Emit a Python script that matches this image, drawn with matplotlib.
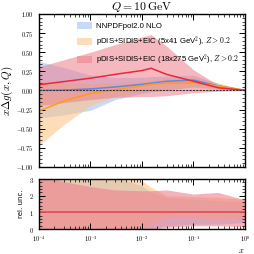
import matplotlib
matplotlib.use('Agg')
import matplotlib.pyplot as plt
from matplotlib.patches import Patch
from matplotlib.ticker import MultipleLocator, LogLocator, NullFormatter, FixedLocator

plt.rcParams['mathtext.fontset'] = 'cm'
plt.rcParams['font.family'] = 'DejaVu Sans'

x = [1e-4, 3e-4, 1e-3, 3e-3, 1e-2, 1.5e-2, 3e-2, 1e-1, 3e-1, 1.0]

# NNPDFpol2.0 NLO
nn_c = [0.0, 0.005, 0.02, 0.045, 0.08, 0.095, 0.12, 0.135, 0.06, 0.0]
nn_hi = [0.38, 0.30, 0.20, 0.17, 0.17, 0.18, 0.19, 0.20, 0.09, 0.0]
nn_lo = [-0.36, -0.32, -0.26, -0.12, -0.04, -0.02, 0.0, 0.05, 0.02, 0.0]
# pDIS+SIDIS+EIC 5x41
e5_c = [-0.27, -0.14, -0.04, 0.01, 0.06, 0.08, 0.095, 0.10, 0.06, 0.0]
e5_hi = [0.12, 0.10, 0.09, 0.10, 0.12, 0.14, 0.16, 0.17, 0.10, 0.0]
e5_lo = [-0.72, -0.45, -0.20, -0.08, -0.02, 0.0, 0.02, 0.04, 0.02, 0.0]
# pDIS+SIDIS+EIC 18x275
e18_c = [0.075, 0.115, 0.16, 0.21, 0.26, 0.29, 0.21, 0.12, 0.035, 0.0]
e18_hi = [0.31, 0.40, 0.50, 0.60, 0.70, 0.73, 0.58, 0.27, 0.07, 0.0]
e18_lo = [-0.20, -0.16, -0.12, -0.09, -0.08, -0.08, -0.07, -0.03, -0.01, 0.0]

# relative uncertainty panel
nn_rhi = [3.5, 3.5, 3.4, 3.1, 2.6, 2.2, 1.9, 1.8, 1.7, 1.6]
nn_rlo = [-1, -1, -0.8, -0.5, -0.2, 0.0, 0.2, 0.3, 0.3, 0.4]
e5_rhi = [3.5, 3.5, 3.5, 3.3, 2.9, 2.5, 2.0, 1.95, 1.9, 1.8]
e5_rlo = [-1, -1, -0.8, -0.4, 0.0, 0.3, 0.7, 0.7, 0.6, 0.6]
e18_rhi = [3.3, 2.85, 2.55, 2.35, 2.3, 2.3, 2.35, 2.1, 2.2, 1.75]
e18_rlo = [-1, -1, -0.6, -0.3, -0.1, 0.0, 0.1, 0.2, 0.2, 0.15]

labels = ['NNPDFpol2.0 NLO',
          r'pDIS+SIDIS+EIC (5x41 GeV$^2$), $Z>0.2$',
          r'pDIS+SIDIS+EIC (18x275 GeV$^2$), $Z>0.2$']
lcol = ['#5b87ee', '#ff9a1c', '#e8283c']
fcol = ['#9dbdf5', '#fdc27f', '#ee7f8c']

fig = plt.figure(figsize=(2.54, 2.54), dpi=100)
ax = fig.add_axes([0.1535, 0.343, 0.811, 0.602])
ax2 = fig.add_axes([0.1535, 0.098, 0.811, 0.197])

series = [(nn_c, nn_lo, nn_hi), (e5_c, e5_lo, e5_hi), (e18_c, e18_lo, e18_hi)]
for (c, lo, hi), lc, fc in zip(series, lcol, fcol):
    ax.fill_between(x, lo, hi, color=fc, alpha=0.55, lw=0)
for (c, lo, hi), lc in zip(series, lcol):
    ax.plot(x, c, color=lc, lw=1.1)
ax.axhline(0, color='#333333', ls='--', lw=0.8, dashes=(2, 1))

rel = [(nn_rlo, nn_rhi), (e5_rlo, e5_rhi), (e18_rlo, e18_rhi)]
for (lo, hi), fc in zip(rel, fcol):
    ax2.fill_between(x, lo, hi, color=fc, alpha=0.6, lw=0)
ax2.axhline(1, color='#e0525a', lw=1.3)

handles = [Patch(facecolor=fc, alpha=0.55, edgecolor='none') for fc in fcol]
ax.legend(handles, labels, loc='upper right', bbox_to_anchor=(1.0, 0.985),
          frameon=False, prop={'family': 'Liberation Sans', 'size': 5.6},
          handlelength=1.9, handleheight=1.0,
          labelspacing=0.5, borderaxespad=0.3, handletextpad=0.6)

for a in (ax, ax2):
    a.set_xscale('log')
    a.set_xlim(1e-4, 1)
    a.xaxis.set_major_locator(FixedLocator([1e-4, 1e-3, 1e-2, 1e-1, 1]))
    a.xaxis.set_minor_locator(LogLocator(base=10, subs=range(2, 10), numticks=20))
    a.xaxis.set_minor_formatter(NullFormatter())
    a.tick_params(which='both', direction='in', top=True, right=True, labelsize=4.5)
    a.tick_params(which='major', length=4, width=0.7)
    a.tick_params(which='minor', length=2, width=0.5)
    for s in a.spines.values():
        s.set_linewidth(1.0)

ax.set_ylim(-1, 1)
ax.yaxis.set_minor_locator(MultipleLocator(0.05))
ax.set_yticks([-1, -0.75, -0.5, -0.25, 0, 0.25, 0.5, 0.75, 1])
ax.set_yticklabels([r'$-1.00$', r'$-0.75$', r'$-0.50$', r'$-0.25$', r'$0.00$',
                    r'$0.25$', r'$0.50$', r'$0.75$', r'$1.00$'])
ax.tick_params(labelbottom=False)
ax.set_ylabel(r'$x\Delta g(x,Q)$', fontsize=8, labelpad=1)
ax.set_title(r'$Q=10\,\mathrm{GeV}$', fontsize=8.5, pad=3)

ax2.set_ylim(0, 3)
ax2.set_yticks([0, 1, 2, 3])
ax2.set_yticklabels([r'$0$', r'$1$', r'$2$', r'$3$'])
ax2.yaxis.set_minor_locator(MultipleLocator(0.2))
ax2.set_xticklabels([r'$10^{-4}$', r'$10^{-3}$', r'$10^{-2}$', r'$10^{-1}$', r'$10^{0}$'])
ax2.set_ylabel('rel. unc.', fontsize=5, labelpad=4)
ax2.set_xlabel(r'$x$', fontsize=6)
ax2.xaxis.set_label_coords(0.98, -0.33)

fig.savefig('out.png', dpi=100)
